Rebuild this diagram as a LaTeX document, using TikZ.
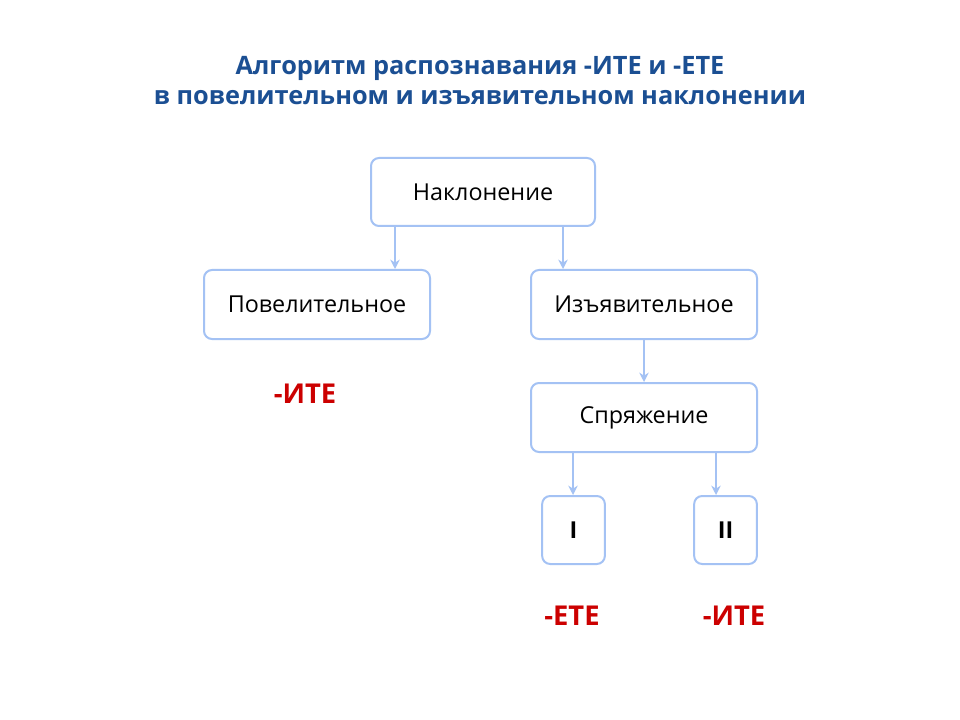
\documentclass[tikz,border=0pt]{standalone}
\usepackage{fontspec}
\setmainfont{Open Sans}
\usetikzlibrary{arrows.meta}
\definecolor{bord}{HTML}{A4C2F4}
\definecolor{ttl}{HTML}{1B4F93}
\definecolor{redt}{HTML}{CC0000}
\begin{document}
\begin{tikzpicture}[x=0.75pt,y=-0.75pt,
  box/.style={draw=bord,line width=1.5pt,rounded corners=6pt,fill=white,inner sep=0pt,font=\fontsize{17.5}{20}\selectfont},
  arr/.style={draw=bord,line width=1.5pt,-{Stealth[length=7pt,width=7pt]}},
  endl/.style={text=redt,font=\bfseries\fontsize{20.5}{24}\selectfont}]
\useasboundingbox[fill=white] (0,0) rectangle (960,720);
\node[text=ttl,font=\bfseries\fontsize{19}{22.5}\selectfont,align=center] (title) at (480,81)
  {Алгоритм распознавания -ИТЕ и -ЕТЕ\\в повелительном и изъявительном наклонении};
\node[box,minimum width=168pt,minimum height=51pt] (nak) at (483,192) {Наклонение};
\node[box,minimum width=169.5pt,minimum height=51.75pt] (pov) at (317,304.5) {Повелительное};
\node[box,minimum width=169.5pt,minimum height=51.75pt] (izj) at (644,304.5) {Изъявительное};
\node[box,minimum width=169.5pt,minimum height=51.75pt] (spr) at (644,417.5) {Спряжение};
\node[box,minimum width=47pt,minimum height=51pt,font=\bfseries\fontsize{17.5}{20}\selectfont] (one) at (573.5,530) {I};
\node[box,minimum width=47pt,minimum height=51pt,font=\bfseries\fontsize{17.5}{20}\selectfont] (two) at (725.5,530) {II};
\draw[arr] (nak.south -| 395,0) -- (pov.north -| 395,0);
\draw[arr] (nak.south -| 563,0) -- (izj.north -| 563,0);
\draw[arr] (izj) -- (spr);
\draw[arr] (spr.south -| 573,0) -- (one.north -| 573,0);
\draw[arr] (spr.south -| 716,0) -- (two.north -| 716,0);
\node[endl] (e1) at (305,394) {-ИТЕ};
\node[endl] (e2) at (572,616) {-ЕТЕ};
\node[endl] (e3) at (734,616) {-ИТЕ};
\end{tikzpicture}
\end{document}
